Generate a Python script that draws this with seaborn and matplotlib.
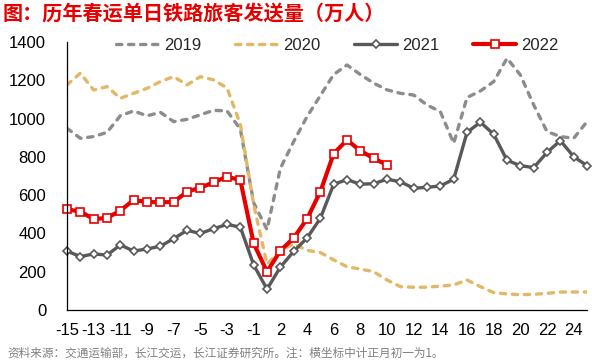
import numpy as np
import pandas as pd
import matplotlib
matplotlib.use("Agg")
import matplotlib.pyplot as plt
import seaborn as sns

# 横坐标：除夕前15天到正月二十五（正月初一记为1，没有0）
days = list(range(-15, 0)) + list(range(1, 26))

y2019 = [949, 897, 906, 928, 1015, 1040, 1014, 1033, 984, 996,
         1020, 1043, 1040, 945, 560, 420, 740, 880, 1010, 1120,
         1230, 1280, 1230, 1185, 1150, 1132, 1123, 1071, 1036, 871,
         1110, 1144, 1193, 1315, 1228, 1071, 932, 906, 897, 984]
y2020 = [1176, 1237, 1149, 1167, 1106, 1132, 1158, 1193, 1219, 1176,
         1219, 1202, 1160, 970, 550, 240, 310, 345, 312, 300,
         262, 226, 214, 200, 157, 122, 119, 119, 125, 131,
         157, 122, 91, 84, 80, 82, 87, 94, 94, 94]
y2021 = [308, 279, 293, 287, 340, 308, 319, 333, 373, 416,
         400, 425, 447, 433, 235, 109, 224, 306, 376, 479,
         657, 681, 657, 660, 683, 670, 636, 641, 648, 683,
         928, 981, 918, 782, 754, 744, 823, 885, 801, 754]
y2022 = [526, 514, 475, 481, 519, 575, 564, 563, 564, 618,
         639, 667, 697, 678, 348, 200, 310, 376, 476, 618,
         817, 888, 832, 792, 758]

yticks = [0, 200, 400, 600, 800, 1000, 1200, 1400]

sns.set_style("white")
plt.rcParams["font.family"] = ["Liberation Sans", "Noto Sans CJK SC", "DejaVu Sans"]

pos = np.arange(len(days))
df = pd.DataFrame({"pos": pos, "2019": y2019, "2020": y2020, "2021": y2021})
df22 = pd.DataFrame({"pos": pos[:len(y2022)], "2022": y2022})

fig = plt.figure(figsize=(5.92, 3.62), dpi=100)
ax = fig.add_axes([0.1132, 0.1436, 0.8784, 0.7404])

sns.lineplot(data=df, x="pos", y="2019", ax=ax, color="#8C8C8C", linewidth=2.4,
             linestyle=(0, (1.6, 2.0)), dash_capstyle="round", label="2019")
sns.lineplot(data=df, x="pos", y="2020", ax=ax, color="#E2B867", linewidth=2.4,
             linestyle=(0, (1.6, 2.0)), dash_capstyle="round", label="2020")
sns.lineplot(data=df, x="pos", y="2021", ax=ax, color="#595959", linewidth=2.4,
             marker="D", markersize=4.5, markerfacecolor="white",
             markeredgecolor="#595959", markeredgewidth=1.2, label="2021", clip_on=False)
sns.lineplot(data=df22, x="pos", y="2022", ax=ax, color="#E60000", linewidth=3.0,
             marker="s", markersize=6, markerfacecolor="white",
             markeredgecolor="#E60000", markeredgewidth=1.2, label="2022", clip_on=False)

ax.set_xlim(0, len(days) - 1)
ax.set_ylim(0, 1400)
ax.set_yticks(yticks)
ax.set_xticks(pos)
ax.set_xticklabels([str(d) if i % 2 == 0 else "" for i, d in enumerate(days)])
ax.set_xlabel("")
ax.set_ylabel("")
ax.tick_params(axis="both", direction="in", length=4, width=0.9, labelsize=12,
               colors="black")
ax.tick_params(axis="y", pad=15)
ax.tick_params(axis="x", pad=9)
for s in ["top", "right"]:
    ax.spines[s].set_visible(False)
for s in ["left", "bottom"]:
    ax.spines[s].set_color("black")
    ax.spines[s].set_linewidth(0.9)

ax.get_legend().remove()
handles, labels = ax.get_legend_handles_labels()
fig.legend(handles, labels, loc="center", bbox_to_anchor=(0.57, 0.874), ncol=4,
           frameon=False, fontsize=12, handlelength=2.6, handletextpad=0.3,
           columnspacing=2.0)

fig.text(0.005, 0.964, "图：历年春运单日铁路旅客发送量（万人）", fontsize=14.5,
         fontweight="bold", color="#E60000", va="center", ha="left",
         family=["Noto Sans CJK SC", "DejaVu Sans"])
fig.text(0.012, 0.025, "资料来源：交通运输部，长江交运，长江证券研究所。注：横坐标中计正月初一为1。",
         fontsize=8.4, color="#808080", va="center", ha="left",
         family=["Noto Sans CJK SC", "DejaVu Sans"])

fig.savefig("out.png", dpi=100)
